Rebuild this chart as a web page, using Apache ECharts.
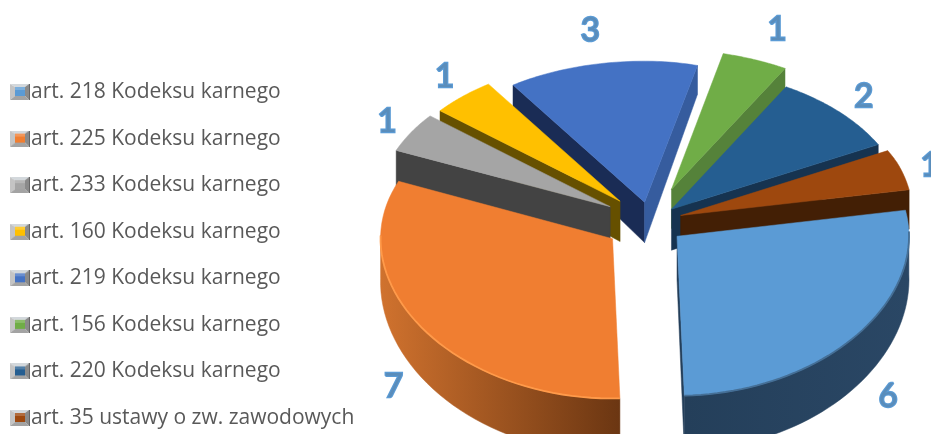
<!DOCTYPE html>
<html>
<head>
<meta charset="utf-8">
<style>html,body{margin:0;padding:0;background:#fff}#chart{width:931px;height:434px}</style>
<script src="https://cdn.jsdelivr.net/npm/echarts@6/dist/echarts.min.js"></script>
</head>
<body>
<div id="chart"></div>
<script>
// Case counts per legal provision
const categories = [
  'art. 218 Kodeksu karnego',
  'art. 225 Kodeksu karnego',
  'art. 233 Kodeksu karnego',
  'art. 160 Kodeksu karnego',
  'art. 219 Kodeksu karnego',
  'art. 156 Kodeksu karnego',
  'art. 220 Kodeksu karnego',
  'art. 35 ustawy o zw. zawodowych'
];
const values = [6, 7, 1, 1, 3, 1, 2, 1];

// Slice appearance
const topColors = ['#5B9BD5', '#F07E31', '#A5A5A5', '#FFC000', '#4472C4', '#70AD47', '#255E91', '#9E480E'];
const startWallColors = ['#1F3A55', '#8A4A1C', '#434343', '#665000', '#1A2C55', '#3C6A2A', '#163350', '#431F05'];
const endWallColors = ['#243F5A', '#8A4A1C', '#434343', '#665000', '#365C9E', '#55823A', '#163350', '#431F05'];
const rimStops = [
  ['#243F5A', '#2A4765'],
  ['#D0722E', '#6B3612'],
  ['#434343', '#434343'],
  ['#665000', '#665000'],
  ['#1A2C55', '#1A2C55'],
  ['#55823A', '#55823A'],
  ['#163350', '#163350'],
  ['#431F05', '#431F05']
];
const rimEdge = ['#456F96', '#FF9A4A', null, null, null, null, null, null];
const explosion = [0.15, 0.196, 0.2, 0.19, 0.135, 0.24, 0.126, 0.139];
const labelOffsets = [[31, 61], [-28, 59], [-24, -11], [-18, -20], [-14, -33], [22, -30], [25, -15], [29, -4]];

// Projection of the tilted disc
const firstSliceAngle = 80;
const centerX = 650, centerY = 222;
const radiusX = 232, radiusY = 150, perspective = 0.05;
const RAD = Math.PI / 180;
const total = values.reduce((a, b) => a + b, 0);

function sliceAngles(i) {
  let start = firstSliceAngle;
  for (let k = 0; k < i; k++) start += values[k] / total * 360;
  return [start, start + values[i] / total * 360];
}
function project(x, z) {
  // The far right of the disc leans slightly inward
  const lean = 5 * Math.min(Math.max(x, 0), 0.25) / 0.25 * Math.max(0, -z - 0.4) / 0.6;
  return [centerX + radiusX * x - lean, centerY + radiusY * z / (1 - perspective * z)];
}
function wallHeight(z) { return 42 + 12 * z; }
function down(p, z) { return [p[0], p[1] + wallHeight(z)]; }

function buildSlice(i) {
  const [a0, a1] = sliceAngles(i);
  const mid = (a0 + a1) / 2 * RAD;
  const ox = Math.sin(mid) * explosion[i], oz = -Math.cos(mid) * explosion[i];
  const world = (deg) => [ox + Math.sin(deg * RAD), oz - Math.cos(deg * RAD)];

  const apex = project(ox, oz);
  const apexLow = down(apex, oz);
  const topPts = [apex];
  const steps = 48;
  for (let s = 0; s <= steps; s++) {
    const w = world(a0 + (a1 - a0) * s / steps);
    topPts.push(project(w[0], w[1]));
  }
  const children = [];
  const poly = (points, fill) => children.push({
    type: 'polygon', shape: { points: points },
    style: { fill: fill, stroke: fill, lineWidth: 0.5 }
  });
  const edgeWall = (deg, fill) => {
    const w = world(deg);
    const p = project(w[0], w[1]);
    poly([apex, p, down(p, w[1]), apexLow], fill);
  };
  if (Math.sin(a0 * RAD) < 0) edgeWall(a0, startWallColors[i]);
  if (Math.sin(a1 * RAD) > 0) edgeWall(a1, endWallColors[i]);

  // Rim of the slice, only where it turns toward the viewer
  const upper = [], lower = [];
  for (let s = 0; s <= steps; s++) {
    const deg = a0 + (a1 - a0) * s / steps;
    if (-Math.cos(deg * RAD) < -0.06) continue;
    const w = world(deg);
    const p = project(w[0], w[1]);
    upper.push(p);
    lower.push(down(p, w[1]));
  }
  if (upper.length > 1) {
    poly(upper.concat(lower.reverse()), new echarts.graphic.LinearGradient(0, 0, 1, 0, [
      { offset: 0, color: rimStops[i][0] }, { offset: 1, color: rimStops[i][1] }
    ]));
  }
  poly(topPts, topColors[i]);
  if (upper.length > 1 && rimEdge[i]) {
    children.push({
      type: 'polyline', shape: { points: upper },
      style: { fill: null, stroke: rimEdge[i], lineWidth: 1.8 }
    });
  }
  const rimMid = project(ox + Math.sin(mid), oz - Math.cos(mid));
  children.push({
    type: 'text',
    style: {
      x: rimMid[0] + labelOffsets[i][0], y: rimMid[1] + labelOffsets[i][1],
      text: String(values[i]),
      font: '33px Lato', align: 'center', verticalAlign: 'middle',
      fill: '#5A8DBB', stroke: '#5B9BD5', lineWidth: 2.4
    },
    z2: 50
  });
  return { type: 'group', children: children };
}

// Small bevelled square used as the legend marker
function markerImage(color) {
  const c = document.createElement('canvas');
  c.width = 20; c.height = 16;
  const g = c.getContext('2d');
  const face = (pts, fill) => {
    g.fillStyle = fill; g.beginPath();
    pts.forEach((p, k) => k ? g.lineTo(p[0], p[1]) : g.moveTo(p[0], p[1]));
    g.closePath(); g.fill();
  };
  face([[0, 0], [19, 0], [15, 3], [5, 3]], '#D3D8DC');
  face([[0, 0], [5, 3], [5, 12], [0, 16]], '#C4C4C4');
  face([[19, 0], [15, 3], [15, 12], [19, 16]], '#8A8A8A');
  face([[0, 16], [5, 12], [15, 12], [19, 16]], '#A3A3A3');
  g.fillStyle = color; g.fillRect(5, 3, 10, 9);
  g.fillStyle = 'rgba(255,255,255,0.2)'; g.fillRect(5, 3, 10, 3);
  g.fillStyle = '#666666'; g.fillRect(19, 0, 1, 16);
  return c.toDataURL();
}

const depth = values.map((_, i) => {
  const [a0, a1] = sliceAngles(i);
  return -Math.cos((a0 + a1) / 2 * RAD);
});
const rank = depth.map(d => depth.filter(o => o < d).length);

const chart = echarts.init(document.getElementById('chart'), null, { renderer: 'canvas' });
chart.setOption({
  animation: false,
  backgroundColor: '#fff',
  legend: {
    orient: 'vertical', left: 10, top: 81.5, height: 350,
    itemWidth: 20, itemHeight: 16, itemGap: 25.57,
    padding: 0, selectedMode: false,
    data: categories.map((name, i) => ({ name: name, icon: 'image://' + markerImage(topColors[i]) })),
    textStyle: { fontFamily: 'Open Sans', fontSize: 21, lineHeight: 21, color: '#595959', padding: [0, 0, 0, -4] }
  },
  series: categories.map((name, i) => ({
    type: 'custom', name: name, coordinateSystem: 'none', silent: true,
    z: 2 + rank[i], clip: false,
    itemStyle: { color: topColors[i] },
    data: [values[i]],
    renderItem: () => buildSlice(i)
  }))
});
</script>
</body>
</html>
